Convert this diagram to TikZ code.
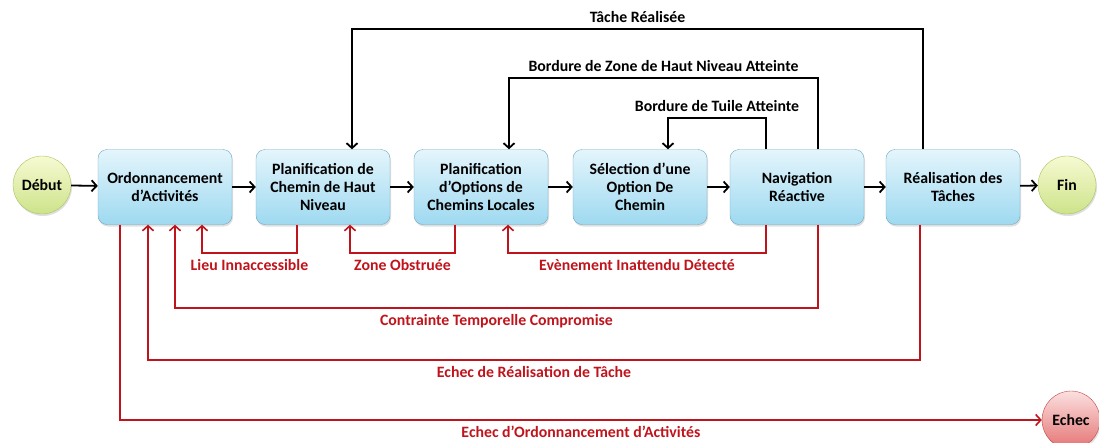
\documentclass[tikz,border=0pt]{standalone}
\usepackage{fontspec}
\setmainfont{Carlito}
\usetikzlibrary{arrows.meta, calc, shadows}

\definecolor{boxline}{HTML}{6FA8C0}
\definecolor{boxtop}{HTML}{E4F5FC}
\definecolor{boxbot}{HTML}{9ED9F0}
\definecolor{endtop}{HTML}{F7FAD2}
\definecolor{endbot}{HTML}{CDE38A}
\definecolor{endline}{HTML}{A9C25E}
\definecolor{failtop}{HTML}{FBE0E0}
\definecolor{failbot}{HTML}{E57373}
\definecolor{failline}{HTML}{C24545}
\definecolor{errred}{HTML}{C0141C}

\begin{document}
\begin{tikzpicture}[x=1pt, y=-1pt, font=\bfseries\fontsize{15.8}{18}\selectfont,
	step box/.style={draw=boxline, rounded corners=9pt, top color=boxtop, bottom color=boxbot,
		minimum width=134pt, minimum height=75pt, align=center, inner sep=2pt,
		drop shadow={opacity=0.25, shadow xshift=1pt, shadow yshift=-2pt}},
	terminal/.style={circle, draw=endline, top color=endtop, bottom color=endbot, minimum size=58pt,
		inner sep=0pt, drop shadow={opacity=0.25, shadow xshift=1pt, shadow yshift=-2pt}},
	fail/.style={terminal, draw=failline, top color=failtop, bottom color=failbot},
	flow/.style={line width=1.8pt, -{Straight Barb[length=5pt, width=11pt]}},
	err/.style={flow, draw=errred, line width=1.6pt},
	errlbl/.style={text=errred, below=2pt, midway}]
	\useasboundingbox (0,0) rectangle (1099,442);
	% main chain
	\node [terminal] (debut) at (42,185) {Début};
	\node [step box] (ord) at (165,187) {Ordonnancement\\d’Activités};
	\node [step box] (phn) at (323,187) {Planification de\\Chemin de Haut\\Niveau};
	\node [step box] (pol) at (481,187) {Planification\\d’Options de\\Chemins Locales};
	\node [step box] (sel) at (640,187) {Sélection d’une\\Option De\\Chemin};
	\node [step box] (nav) at (797,187) {Navigation\\Réactive};
	\node [step box] (rea) at (953,187) {Réalisation des\\Tâches};
	\node [terminal] (fin) at (1067,185) {Fin};
	\node [fail] (echec) at (1071,420) {Echec};
	\draw [flow] (debut) -- (ord);
	\draw [flow] (ord) -- (phn);
	\draw [flow] (phn) -- (pol);
	\draw [flow] (pol) -- (sel);
	\draw [flow] (sel) -- (nav);
	\draw [flow] (nav) -- (rea);
	\draw [flow] (rea) -- (fin);
	% loops on top
	\draw [flow] (923,0 |- rea.north) |- (352,29) node [pos=0.75, above=2pt] {Tâche Réalisée}
		-- (352,0 |- phn.north);
	\draw [flow] (818,0 |- nav.north) |- (509,78) node [pos=0.75, above=2pt] {Bordure de Zone de Haut Niveau Atteinte}
		-- (509,0 |- pol.north);
	\draw [flow] (766,0 |- nav.north) |- (668,118) node [pos=0.75, above=2pt] {Bordure de Tuile Atteinte}
		-- (668,0 |- sel.north);
	% failures below
	\draw [err] (297,0 |- phn.south) |- (202,253) node [errlbl, pos=0.75] {Lieu Innaccessible}
		-- (202,0 |- ord.south);
	\draw [err] (455,0 |- pol.south) |- (350,253) node [errlbl, pos=0.75] {Zone Obstruée}
		-- (350,0 |- phn.south);
	\draw [err] (766,0 |- nav.south) |- (508,253) node [errlbl, pos=0.75] {Evènement Inattendu Détecté}
		-- (508,0 |- pol.south);
	\draw [err] (818,0 |- nav.south) |- (175,308) node [errlbl, pos=0.75] {Contrainte Temporelle Compromise}
		-- (175,0 |- ord.south);
	\draw [err] (920,0 |- rea.south) |- (148,360) node [errlbl, pos=0.75] {Echec de Réalisation de Tâche}
		-- (148,0 |- ord.south);
	\draw [err] (120,0 |- ord.south) |- (echec) node [errlbl, pos=0.75] {Echec d’Ordonnancement d’Activités};
\end{tikzpicture}
\end{document}
